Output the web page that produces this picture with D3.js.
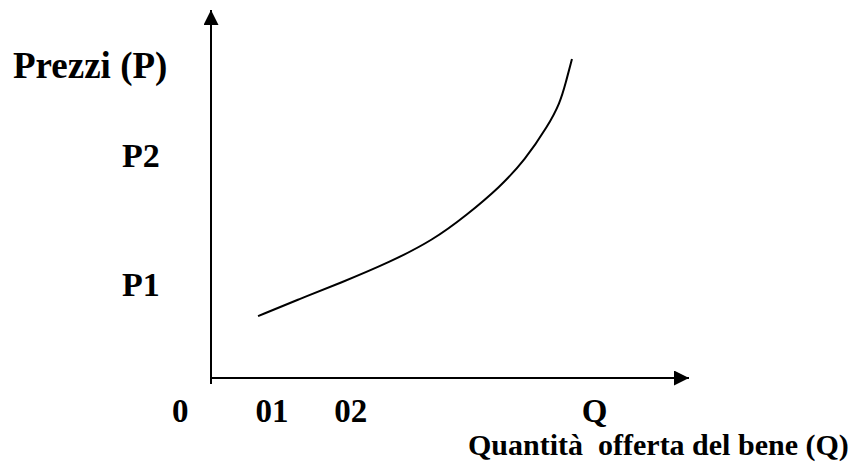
<!DOCTYPE html>
<html>
<head>
<meta charset="utf-8">
<script src="https://cdn.jsdelivr.net/npm/d3@7"></script>
<style>
  html, body { margin: 0; padding: 0; background: #fff; }
  svg { display: block; }
  text { font-family: "Liberation Serif", "Times New Roman", serif; font-weight: bold; fill: #000; white-space: pre; }
</style>
</head>
<body>
<svg id="chart" width="851" height="466"></svg>
<script>
// ---- data ----
const supplyQ = [9.8, 18.5, 26.9, 37.3, 46.3, 53.3, 60.2, 65.4, 70.2, 72.7, 73.9, 75.2];
const supplyP = [16.8, 21.5, 25.8, 31.5, 37.5, 44.3, 51.9, 59.2, 68.5, 74.7, 80.2, 86.7];
const xTickValues = [-6.5, 12.6, 29.0, 79.8];
const xTickLabels = ["0", "01", "02", "Q"];
const yTickValues = [60.5, 25.5];
const yTickLabels = ["P2", "P1"];
const yTitle = "Prezzi (P)";
const xTitle = "Quantità  offerta del bene (Q)";

// ---- layout ----
const svg = d3.select("#chart");
const x = d3.scaleLinear().domain([0, 100]).range([211, 691]);
const y = d3.scaleLinear().domain([0, 100]).range([378, 10]);

// arrow markers
const defs = svg.append("defs");
defs.append("marker")
  .attr("id", "arrow")
  .attr("viewBox", "0 0 10 10")
  .attr("refX", 10).attr("refY", 5)
  .attr("markerWidth", 8).attr("markerHeight", 7.5)
  .attr("markerUnits", "strokeWidth")
  .attr("orient", "auto")
  .append("path").attr("d", "M0,0 L10,5 L0,10 Z").attr("fill", "#000");

// y axis line (extends slightly below origin)
svg.append("line")
  .attr("x1", x(0)).attr("y1", y(0) + 6)
  .attr("x2", x(0)).attr("y2", y(100))
  .attr("stroke", "#000").attr("stroke-width", 2)
  .attr("marker-end", "url(#arrow)");

// x axis line
svg.append("line")
  .attr("x1", x(0)).attr("y1", y(0))
  .attr("x2", x(100) - 2).attr("y2", y(0))
  .attr("stroke", "#000").attr("stroke-width", 2)
  .attr("marker-end", "url(#arrow)");

// x tick labels via d3 axis
const xAxis = d3.axisBottom(x)
  .tickValues(xTickValues)
  .tickFormat((d, i) => xTickLabels[i])
  .tickSize(0)
  .tickPadding(0);
const gx = svg.append("g").attr("transform", `translate(0, 422)`).call(xAxis);
gx.select(".domain").remove();
gx.selectAll("text")
  .attr("dy", 0)
  .attr("y", 0)
  .style("font-family", '"Liberation Serif", "Times New Roman", serif')
  .style("font-weight", "bold")
  .style("font-size", "33px")
  .attr("fill", "#000");

// y tick labels
svg.append("g").selectAll("text")
  .data(yTickValues)
  .join("text")
  .attr("x", 122)
  .attr("y", d => y(d))
  .attr("dy", "0.35em")
  .style("font-size", "34px")
  .text((d, i) => yTickLabels[i]);

// titles
svg.append("text").attr("x", 13).attr("y", 78)
  .style("font-size", "37px").text(yTitle);
svg.append("text").attr("x", 468).attr("y", 455)
  .style("font-size", "30px").text(xTitle);

// supply curve
const line = d3.line()
  .x((d, i) => x(supplyQ[i]))
  .y((d, i) => y(supplyP[i]))
  .curve(d3.curveBasis);
svg.append("path")
  .datum(supplyQ)
  .attr("d", line)
  .attr("fill", "none")
  .attr("stroke", "#000")
  .attr("stroke-width", 2);
</script>
</body>
</html>
